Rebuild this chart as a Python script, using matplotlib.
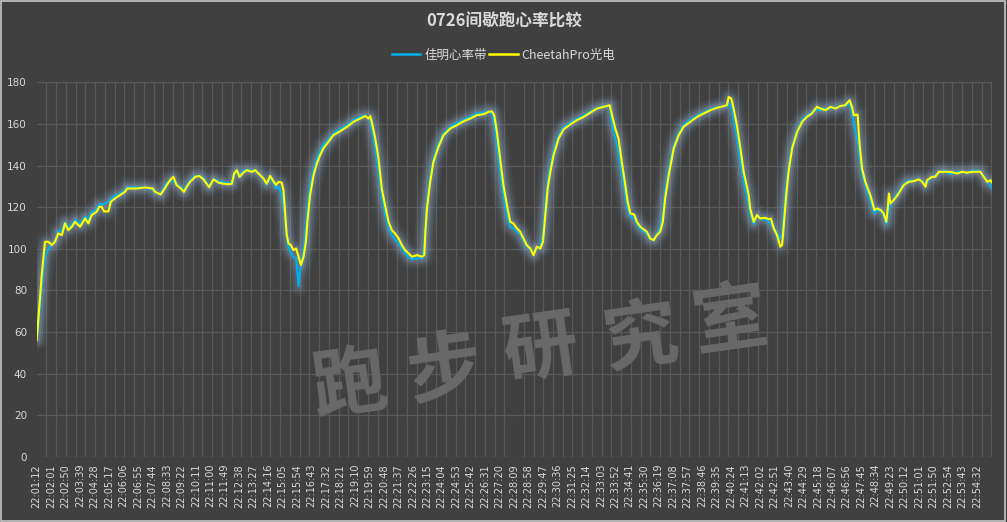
import numpy as np
import matplotlib
matplotlib.use("Agg")
import matplotlib.pyplot as plt
from matplotlib.lines import Line2D
from matplotlib.patches import Rectangle

plt.rcParams['font.family'] = ['Noto Sans CJK SC', 'DejaVu Sans']

# ---- data -------------------------------------------------------------
title = "0726间歇跑心率比较"
series_names = ["佳明心率带", "CheetahPro光电"]
n_samples = 3236          # one reading per record
label_step = 49           # a time label every 49 records
grid_step = 33            # a vertical grid line every 33 records

time_labels = [
    "22:01:12", "22:02:01", "22:02:50", "22:03:39", "22:04:28", "22:05:17",
    "22:06:06", "22:06:55", "22:07:44", "22:08:33", "22:09:22", "22:10:11",
    "22:11:00", "22:11:49", "22:12:38", "22:13:27", "22:14:16", "22:15:05",
    "22:15:54", "22:16:43", "22:17:32", "22:18:21", "22:19:10", "22:19:59",
    "22:20:48", "22:21:37", "22:22:26", "22:23:15", "22:24:04", "22:24:53",
    "22:25:42", "22:26:31", "22:27:20", "22:28:09", "22:28:58", "22:29:47",
    "22:30:36", "22:31:25", "22:32:14", "22:33:03", "22:33:52", "22:34:41",
    "22:35:30", "22:36:19", "22:37:08", "22:37:57", "22:38:46", "22:39:35",
    "22:40:24", "22:41:13", "22:42:02", "22:42:51", "22:43:40", "22:44:29",
    "22:45:18", "22:46:07", "22:46:56", "22:47:45", "22:48:34", "22:49:23",
    "22:50:12", "22:51:01", "22:51:50", "22:52:54", "22:53:43", "22:54:32",
]

# record number of each reading
record = [
    0, 5, 11, 17, 23, 28, 40, 51, 62, 73, 85, 96, 107, 119, 130, 147, 164, 175,
    186, 203, 212, 220, 228, 243, 251, 265, 282, 299, 307, 339, 367, 393, 401,
    420, 435, 444, 452, 463, 474, 488, 499, 508, 520, 537, 551, 565, 584, 599,
    616, 633, 650, 661, 669, 678, 687, 700, 712, 729, 740, 757, 768, 779, 791,
    802, 811, 819, 830, 836, 842, 847, 853, 861, 870, 879, 887, 895, 904, 912,
    917, 926, 938, 949, 960, 971, 988, 1005, 1028, 1051, 1073, 1096, 1113,
    1124, 1130, 1135, 1147, 1158, 1169, 1180, 1192, 1203, 1214, 1226, 1237,
    1248, 1260, 1271, 1288, 1305, 1313, 1316, 1322, 1333, 1344, 1361, 1378,
    1401, 1423, 1446, 1469, 1491, 1514, 1531, 1542, 1550, 1559, 1570, 1581,
    1593, 1604, 1615, 1627, 1638, 1649, 1660, 1672, 1683, 1694, 1706, 1715,
    1723, 1731, 1740, 1751, 1768, 1785, 1807, 1830, 1853, 1875, 1898, 1920,
    1941, 1949, 1960, 1971, 1982, 1994, 2002, 2011, 2024, 2033, 2045, 2056,
    2067, 2078, 2090, 2101, 2112, 2121, 2129, 2141, 2158, 2175, 2191, 2214,
    2237, 2259, 2282, 2304, 2327, 2338, 2344, 2353, 2361, 2372, 2384, 2395,
    2412, 2417, 2429, 2440, 2451, 2468, 2480, 2487, 2497, 2508, 2519, 2525,
    2530, 2539, 2547, 2559, 2576, 2593, 2609, 2626, 2643, 2655, 2672, 2689,
    2706, 2722, 2739, 2754, 2762, 2768, 2781, 2787, 2796, 2807, 2824, 2838,
    2847, 2860, 2869, 2878, 2883, 2887, 2892, 2903, 2920, 2937, 2954, 2971,
    2988, 3000, 3011, 3016, 3033, 3044, 3056, 3073, 3095, 3118, 3135, 3152,
    3169, 3186, 3197, 3208, 3220, 3231, 3235,
]

# chest strap heart rate (bpm)
hr_strap = [
    57, 62, 72, 83, 91, 96, 100, 102.4, 103.5, 108.5, 109, 112.5, 110.5, 111.5,
    114, 112, 115.5, 114, 117.5, 119, 121.5, 121.5, 121.5, 122.5, 124, 125.5,
    126.5, 128, 129.5, 129.5, 129.5, 128.5, 127, 126.5, 130.5, 132, 132.5,
    132.5, 131, 129.5, 128, 130.5, 133, 135, 135, 134, 130, 133.5, 132.5, 132,
    131.5, 131.5, 135, 137.5, 135.5, 137.5, 138, 137.5, 137.5, 135.5, 133.5,
    131, 134, 132, 129, 130, 126, 121, 114, 106, 101, 98, 96, 95.5, 82, 93, 99,
    110, 119, 130, 138, 143.5, 147, 150, 152.5, 155.5, 157.5, 159.5, 162, 163.5,
    164, 163, 162, 158, 148, 137, 126, 117, 110, 106.5, 104.5, 102.5, 100, 98,
    96, 95, 95.5, 95.5, 100, 109, 122, 134.5, 143, 150.5, 155.5, 158.5, 160.5,
    162, 163.5, 165, 165.5, 166, 165, 160, 150, 137, 125, 116, 110.5, 110, 108,
    107, 104, 101.5, 99.5, 98, 100.5, 101, 107, 120, 132, 140, 147, 154.5,
    158.5, 160.5, 162.5, 164, 166, 167.5, 168.5, 168.5, 160, 153, 146, 136, 126,
    119, 115.5, 114.5, 112, 109.5, 108.5, 107, 105, 104.5, 107, 110, 117, 127.5,
    138, 149.5, 155.5, 159.5, 162, 164, 165.5, 167, 168, 168.5, 168.5, 170, 168,
    162, 153, 142, 132, 121, 117, 112, 116, 115, 114, 113, 112, 110, 107.5, 105,
    106, 115, 130, 139, 149.5, 157, 162, 164, 165.5, 167, 166.5, 167.5, 167.5,
    168, 168.5, 169, 169.5, 166, 160, 152, 145, 136, 130.5, 123, 117, 118.5,
    118, 116.5, 112, 116, 119, 121, 124, 127.5, 131, 133, 132.5, 133.5, 132.5,
    131.5, 132, 134.5, 135, 136.5, 137.5, 136, 137, 137, 136.5, 137.5, 137.5,
    137, 135, 132.5, 130, 129.5,
]

# CheetahPro optical heart rate (bpm)
hr_optical = [
    56.2, 65, 76, 87.4, 96, 103.4, 103.4, 101.8, 103.4, 107.4, 106.6, 112.2,
    109, 110.6, 113, 110.6, 114.6, 112.2, 116.2, 117.8, 120.2, 120.2, 118, 118,
    122.6, 124.2, 125.8, 127.4, 129, 129, 129.5, 129, 127.4, 126.1, 129.3,
    131.4, 133, 134.6, 130.6, 129, 127.4, 129.8, 132.2, 134.6, 135, 133.4,
    129.6, 133.4, 131.8, 131.3, 131, 131.3, 136.2, 137.8, 134.6, 136.6, 137.8,
    137, 137.8, 135.4, 133.8, 131.3, 135, 132.5, 130.6, 132.2, 131.8, 128.2,
    116.2, 106.6, 102.6, 101.8, 99.4, 100.2, 96.2, 92.2, 96.2, 103.4, 113,
    125.8, 135.4, 141, 145, 148.2, 151.4, 154.6, 156.5, 158.6, 161, 162.6,
    163.8, 162.6, 163.8, 161, 153, 143.4, 129, 121, 113, 109, 107.4, 105, 101.8,
    99.4, 97.8, 96.2, 97, 96.2, 97, 106.6, 119.4, 132.2, 141.8, 149, 154.6,
    157.8, 159.4, 161.3, 162.6, 164.2, 164.7, 165.8, 166.1, 164.2, 156.2, 143.4,
    130.6, 121, 113, 112.2, 109.8, 108.2, 105, 101.8, 100.2, 97, 101, 100.2,
    103.4, 116.2, 129, 137, 145, 153, 157.4, 159.7, 161.8, 163.4, 165.4, 167.4,
    168.2, 169, 164.2, 157.8, 153, 141.8, 130.6, 122.6, 117, 116.5, 113, 110.6,
    109.4, 108.2, 105, 104.2, 106.6, 108.2, 113, 124.2, 135.4, 148.2, 154.6,
    158.6, 161, 163.4, 165, 166.6, 167.7, 168.6, 169, 173, 172.2, 167.4, 159.4,
    148.2, 137, 125.8, 119.4, 113, 116.2, 114.6, 114.9, 114.2, 114.6, 109.8,
    106.6, 101, 101.8, 109.8, 125.8, 137, 148.2, 156.2, 161, 163.4, 165, 168.2,
    167.4, 166.6, 168.2, 167.4, 168.6, 169, 171.4, 168.2, 164.2, 164.5, 151.4,
    138.6, 132.2, 125.8, 118.6, 119.4, 118.6, 117, 113, 119.4, 126.6, 121.8,
    123.4, 126.6, 130.6, 132.2, 132.5, 133.4, 132.2, 129.8, 133, 134.6, 134.6,
    137, 137, 137, 136.2, 137, 136.6, 137, 137, 137, 134.6, 132.2, 133, 132,
]

y_ticks = list(range(0, 181, 20))

# ---- styling ----------------------------------------------------------
BG = "#404040"
GRID = "#595959"
TEXT = "#d9d9d9"
BLUE = "#00b0f0"
YELLOW = "#ffff00"
GLOW = "#9fc3e3"

fig = plt.figure(figsize=(10.07, 5.22), dpi=100, facecolor=BG)
ax = fig.add_axes([0.03645, 0.1245, 0.9483, 0.7178], facecolor=BG)

# soft halo under both traces
for lw, a in [(15, 0.04), (11, 0.06), (8, 0.08), (5, 0.10)]:
    for vals in (hr_strap, hr_optical):
        ax.plot(record, vals, color=GLOW, lw=lw, alpha=a, zorder=2,
                solid_joinstyle="round", solid_capstyle="round")

ax.plot(record, hr_strap, color=BLUE, lw=1.5, zorder=3, label=series_names[0])
ax.plot(record, hr_optical, color=YELLOW, lw=1.5, zorder=4, label=series_names[1])

ax.set_xlim(0, n_samples - 1)
ax.set_ylim(0, 180)

label_pos = np.arange(len(time_labels)) * label_step
ax.set_xticks(label_pos)
ax.set_xticklabels(time_labels, rotation=90, fontsize=7, color=TEXT,
                   family="DejaVu Sans")
ax.set_xticks(np.arange(0, n_samples, grid_step), minor=True)
ax.set_yticks(y_ticks)
ax.set_yticklabels([str(v) for v in y_ticks], fontsize=7.5, color=TEXT,
                   family="DejaVu Sans")
ax.tick_params(axis="both", which="both", length=0)
ax.tick_params(axis="x", pad=5)
ax.tick_params(axis="y", pad=7)

ax.grid(False)
ax.xaxis.grid(True, which="minor", color=GRID, lw=0.9, zorder=0)
ax.yaxis.grid(True, which="major", color=GRID, lw=0.9, zorder=0)
ax.set_axisbelow(True)
for s in ax.spines.values():
    s.set_visible(False)

# watermark
wm_chars = "跑步研究室"
wm_x = [0.3476, 0.4419, 0.5362, 0.6356, 0.7249]
wm_y = [0.2600, 0.2880, 0.3300, 0.3520, 0.3850]
for ch, x, y in zip(wm_chars, wm_x, wm_y):
    fig.text(x, y, ch, fontsize=54, color="#696969", ha="center", va="center",
             fontweight="heavy", rotation=8, zorder=1.5,
             family=["Noto Sans CJK SC"])

fig.text(0.501, 1 - 22 / 522, title, ha="center", va="center", fontsize=12,
         fontweight="bold", color=TEXT)

handles = [Line2D([], [], color=BLUE, lw=1.8), Line2D([], [], color=YELLOW, lw=1.8)]
leg = fig.legend(handles, series_names, loc="center",
                 bbox_to_anchor=(0.5, 1 - 55 / 522), ncol=2, frameon=False,
                 fontsize=9, labelcolor=TEXT, handlelength=2.3,
                 handletextpad=0.3, columnspacing=0.2)

fig.patches.append(Rectangle((0.0005, 0.001), 0.998, 0.997, transform=fig.transFigure,
                             fill=False, edgecolor="#c8c8c8", lw=1.2))

fig.savefig("out.png", dpi=100, facecolor=BG)
